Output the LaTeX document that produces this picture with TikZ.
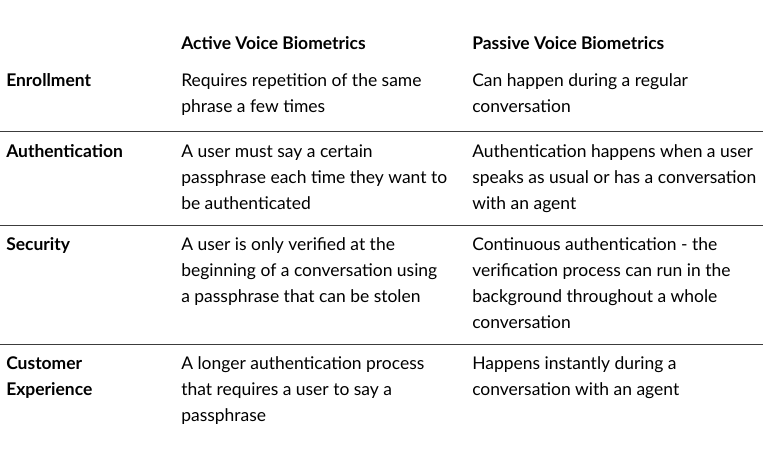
\documentclass[tikz,border=0pt]{standalone}
\usepackage{fontspec}
\setmainfont{Lato}
\tikzset{
  cell/.style={anchor=base west,inner sep=0pt,font=\fontsize{13.1}{15}\selectfont},
  head/.style={cell,font=\fontsize{13.1}{15}\selectfont\bfseries},
  rule/.style={draw={rgb,255:red,60;green,60;blue,60},line width=0.75pt}
}
\begin{document}
\begin{tikzpicture}[x=0.75pt,y=0.75pt,yscale=-1,xscale=1]
\useasboundingbox (0,0) rectangle (766,454);
% header
\node[head] (hactive) at (181,49) {Active Voice Biometrics};
\node[head] (hpassive) at (472,49) {Passive Voice Biometrics};
% enrollment
\node[head] (enr) at (6,86) {Enrollment};
\node[cell] (enra1) at (181,86) {Requires repetition of the same};
\node[cell] (enra2) at (181,112) {phrase a few times};
\node[cell] (enrp1) at (472,86) {Can happen during a regular};
\node[cell] (enrp2) at (472,112) {conversation};
\draw[rule] (0,131) -- (763,131);
% authentication
\node[head] (aut) at (6,157) {Authentication};
\node[cell] (auta1) at (181,157) {A user must say a certain};
\node[cell] (auta2) at (181,183) {passphrase each time they want to};
\node[cell] (auta3) at (181,209) {be authenticated};
\node[cell] (autp1) at (472,157) {Authentication happens when a user};
\node[cell] (autp2) at (472,183) {speaks as usual or has a conversation};
\node[cell] (autp3) at (472,209) {with an agent};
\draw[rule] (0,225) -- (763,225);
% security
\node[head] (sec) at (6,250) {Security};
\node[cell] (seca1) at (181,250) {A user is only verified at the};
\node[cell] (seca2) at (181,276) {beginning of a conversation using};
\node[cell] (seca3) at (181,302) {a passphrase that can be stolen};
\node[cell] (secp1) at (472,250) {Continuous authentication - the};
\node[cell] (secp2) at (472,276) {verification process can run in the};
\node[cell] (secp3) at (472,302) {background throughout a whole};
\node[cell] (secp4) at (472,328) {conversation};
\draw[rule] (0,344) -- (763,344);
% customer experience
\node[head] (cus1) at (6,369) {Customer};
\node[head] (cus2) at (6,395) {Experience};
\node[cell] (cusa1) at (181,369) {A longer authentication process};
\node[cell] (cusa2) at (181,395) {that requires a user to say a};
\node[cell] (cusa3) at (181,421) {passphrase};
\node[cell] (cusp1) at (472,369) {Happens instantly during a};
\node[cell] (cusp2) at (472,395) {conversation with an agent};
\end{tikzpicture}
\end{document}
